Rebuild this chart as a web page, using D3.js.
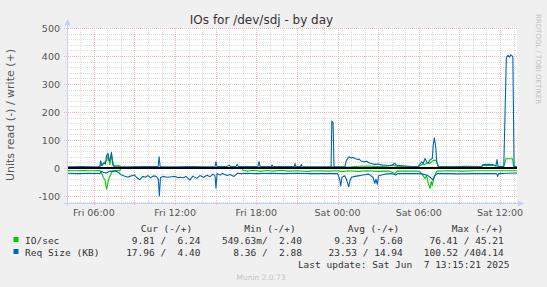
<!DOCTYPE html>
<html><head><meta charset="utf-8">
<script src="https://cdn.jsdelivr.net/npm/d3@7/dist/d3.min.js"></script>
<style>html,body{margin:0;padding:0;background:#f0f0f0;}svg{display:block;}</style>
</head><body>
<svg id="c" width="547" height="287"></svg>
<script>
const title = "IOs for /dev/sdj - by day";
const yLabel = "Units read (-) / write (+)";
const yTicks = [-100, 0, 100, 200, 300, 400, 500];
const baseDay = new Date(2025, 5, 6, 0, 0, 0);          // Fri Jun 6 2025 00:00
const startTime = new Date(2025, 5, 6, 4, 1, 0);
const endTime = new Date(2025, 5, 7, 13, 15, 21);
const lastUpdate = "Last update: Sat Jun  7 13:15:21 2025";
const version = "Munin 2.0.73";
const sideText = "RRDTOOL / TOBI OETIKER";

// [hours since Fri 00:00, value]
const ioWrite = [[4.02,1],[5.0,1.3],[6.0,1],[6.40,1.2],[6.50,12],[6.62,8],[6.75,18],[6.95,28],[7.07,45],[7.18,12],[7.32,44],[7.44,10],[7.55,8],[7.93,8],[7.98,1],[9.5,1.2],[11,1],[13,1.3],[15,1],[17.02,1.5],[18.5,2.5],[19.10,3],[19.16,8],[19.24,3],[21,3],[22.5,2.5],[23.45,3],[23.55,7],[23.7,3],[25.0,4],[25.6,6],[26.3,7],[27.0,5],[27.6,6],[28.22,9],[28.4,5],[29.94,5],[30.15,10],[30.3,14],[30.46,13],[30.6,18],[30.8,16],[30.95,22],[31.1,28],[31.3,27],[31.42,6],[32.5,5],[33.5,6],[34.6,5],[34.74,10],[35.3,9],[35.6,8],[35.75,6],[36.28,6],[36.45,33],[36.93,33],[37.0,6],[37.25,6.24]];
const ioRead = [[4.02,-9.5],[4.6,-10],[5.2,-9],[5.8,-10],[6.46,-9.5],[6.58,-19],[6.70,-34],[6.82,-41],[6.94,-76],[7.05,-50],[7.14,-34],[7.24,-24],[7.36,-10],[7.6,-9.5],[7.93,-9.5],[7.98,-1],[10,-0.8],[13,-0.6],[16,-0.8],[16.98,-0.8],[17.02,-9],[17.4,-11],[17.8,-8],[18.3,-12],[18.8,-9],[19.3,-11],[19.8,-8],[20.4,-11],[21,-10],[21.8,-12],[22.5,-10],[23.3,-11],[24.0,-10],[24.3,-13],[24.8,-10],[25.5,-12],[26.2,-10],[27.0,-12],[27.8,-11],[28.25,-20],[28.4,-11],[29.9,-11],[30.1,-14],[30.22,-20],[30.35,-30],[30.46,-37],[30.58,-27],[30.70,-55],[30.83,-73],[30.92,-48],[31.0,-62],[31.1,-35],[31.25,-20],[31.35,-11],[32.2,-10],[33.2,-11],[34.2,-10],[35.2,-10],[36.2,-10],[37.25,-9.81]];
const reqWrite = [[4.02,4.5],[5.0,5],[6.0,4.5],[6.44,5],[6.50,26],[6.58,10],[6.70,18],[6.85,14],[6.95,46],[7.05,52],[7.12,25],[7.20,30],[7.30,56],[7.40,12],[7.50,5],[8.5,4.5],[9.5,5],[10.75,5],[10.82,40],[10.9,5],[12,4.5],[13.2,5],[14.4,4.5],[14.95,5],[15.02,22],[15.1,5],[15.8,5],[16.0,10],[16.1,5],[16.5,5],[16.58,13],[16.66,5],[18.12,5],[18.2,24],[18.28,5],[19.1,5],[19.16,11],[19.22,5],[20.8,5],[20.86,16],[20.92,5],[21.27,5],[21.32,13],[21.38,5],[23.52,4.5],[23.58,168],[23.67,162],[23.74,4.5],[24.55,4.5],[24.62,22],[24.70,30],[24.83,40],[25.0,36],[25.15,38],[25.29,34],[25.5,30],[25.6,32],[25.73,25],[26.0,22],[26.15,24],[26.32,19],[26.5,16],[26.75,13],[27.0,14],[27.2,11],[27.5,10],[27.9,9],[28.1,12],[28.22,17],[28.35,10],[28.98,7],[29.5,5],[29.94,5],[30.1,15],[30.22,22],[30.33,16],[30.46,34],[30.58,22],[30.7,18],[30.83,29],[31.0,34],[31.07,82],[31.15,108],[31.25,76],[31.33,22],[31.45,4.5],[32.3,4.5],[33.2,5],[34.2,4.5],[34.65,4.5],[34.74,12],[35.2,13],[35.5,12],[35.7,8],[35.78,30],[35.86,5],[36.28,5],[36.47,395],[36.6,402],[36.7,396],[36.8,404],[36.95,398],[37.04,4.5],[37.25,4.4]];
const reqRead = [[4.02,-19],[4.8,-20],[5.6,-19],[6.46,-19.5],[6.55,-12],[6.7,-15],[6.9,-18],[7.05,-14],[7.2,-11],[7.4,-13],[7.6,-11],[7.85,-17],[8.0,-24],[8.2,-28],[8.5,-33],[8.7,-29],[9.0,-25],[9.2,-36],[9.4,-42],[9.6,-30],[9.8,-33],[10.0,-27],[10.2,-35],[10.4,-28],[10.6,-30],[10.76,-40],[10.84,-100],[10.92,-35],[11.1,-30],[11.4,-33],[11.78,-31],[12.0,-30],[12.2,-34],[12.37,-33],[12.6,-35],[12.8,-30],[13.1,-43],[13.3,-29],[13.6,-37],[13.84,-27],[14.1,-33],[14.36,-26],[14.58,-31],[14.8,-22],[14.95,-28],[15.02,-72],[15.1,-20],[15.32,-25],[15.5,-20],[15.84,-27],[16.06,-23],[16.35,-30],[16.6,-19],[16.9,-20],[17.3,-19],[18.0,-20],[19.0,-19],[20.0,-20],[21.0,-19],[22.0,-20],[23.0,-20],[24.0,-20],[24.16,-40],[24.23,-64],[24.33,-33],[24.53,-28],[24.65,-40],[24.83,-67],[24.92,-45],[25.02,-33],[25.29,-30],[25.51,-28],[25.88,-25],[26.3,-22],[26.62,-33],[26.75,-55],[26.84,-40],[26.94,-58],[27.03,-28],[27.5,-22],[28.0,-20],[28.3,-25],[28.45,-20],[29.9,-20],[30.2,-21],[30.5,-24],[30.7,-28],[30.9,-35],[31.07,-43],[31.2,-27],[31.35,-20],[32.0,-20],[33.0,-21],[34.0,-20],[35.0,-20],[35.75,-20],[35.83,-30],[35.9,-20],[36.5,-19],[37.25,-18]];

const legendNames = ["IO/sec", "Req Size (KB)"];
const legendColors = ["#00cc00", "#0066b3"];
const legendHeaders = ["Cur (-/+)", "Min (-/+)", "Avg (-/+)", "Max (-/+)"];
const curVals = ["9.81 /  6.24", "17.96 /  4.40"];
const minVals = ["549.63m/  2.40", "8.36 /  2.88"];
const avgVals = ["9.33 /  5.60", "23.53 / 14.94"];
const maxVals = ["76.41 / 45.21", "100.52 /404.14"];

const svg = d3.select("#c");
const W = 547, H = 287;
const L = 67, R = 517, T = 28, B = 203;
const toDate = h => new Date(baseDay.getTime() + h * 3600000);

const x = d3.scaleTime().domain([startTime, endTime]).range([L, R]);
const y = d3.scaleLinear().domain([-125, 500]).range([B, T]);

svg.append("rect").attr("width", W).attr("height", H).attr("fill", "#f0f0f0");
svg.append("rect").attr("x", L).attr("y", T).attr("width", R - L).attr("height", B - T).attr("fill", "#ffffff");

const grid = svg.append("g").attr("shape-rendering", "crispEdges");
const minorCol = "#dcdcdc", majorCol = "#f3baba";
const hours = d3.timeHour.every(1).range(startTime, endTime);
hours.filter(d => d.getHours() % 3 !== 0).forEach(d => {
  const px = Math.round(x(d)) + 0.5;
  grid.append("line").attr("x1", px).attr("x2", px).attr("y1", T).attr("y2", B)
    .attr("stroke", minorCol).attr("stroke-dasharray", "1,1");
});
d3.range(-120, 501, 20).filter(v => v % 100 !== 0).forEach(v => {
  const py = Math.round(y(v)) + 0.5;
  grid.append("line").attr("x1", L - 2).attr("x2", R).attr("y1", py).attr("y2", py)
    .attr("stroke", minorCol).attr("stroke-dasharray", "1,1");
});
hours.filter(d => d.getHours() % 3 === 0).forEach(d => {
  const px = Math.round(x(d)) + 0.5;
  grid.append("line").attr("x1", px).attr("x2", px).attr("y1", T).attr("y2", B + 3)
    .attr("stroke", majorCol).attr("stroke-dasharray", "1,1");
});
yTicks.forEach(v => {
  const py = Math.round(y(v)) + 0.5;
  grid.append("line").attr("x1", L - 3).attr("x2", R).attr("y1", py).attr("y2", py)
    .attr("stroke", majorCol).attr("stroke-dasharray", "1,1");
});

svg.append("g").selectAll("text").data(yTicks).join("text")
  .attr("x", 60).attr("y", d => y(d) + 3.5).attr("text-anchor", "end")
  .attr("font-family", "DejaVu Sans").attr("font-size", 9.5).attr("fill", "#555")
  .text(d => d);

const labelTicks = hours.filter(d => d.getHours() % 6 === 0);
const fmt = d3.timeFormat("%a %H:%M");
svg.append("g").selectAll("text").data(labelTicks).join("text")
  .attr("x", d => x(d)).attr("y", 216).attr("text-anchor", "middle")
  .attr("font-family", "DejaVu Sans").attr("font-size", 9.5).attr("fill", "#555")
  .text(d => fmt(d));

const line = d3.line().x(d => x(toDate(d[0]))).y(d => y(d[1]));
const series = [[ioWrite, legendColors[0]], [ioRead, legendColors[0]], [reqWrite, legendColors[1]], [reqRead, legendColors[1]]];
const sg = svg.append("g");
series.forEach(([data, col]) => {
  sg.append("path").datum(data).attr("d", line).attr("fill", "none")
    .attr("stroke", col).attr("stroke-width", 1.1).attr("stroke-linejoin", "round");
});

svg.append("line").attr("x1", L).attr("x2", R).attr("y1", y(0)).attr("y2", y(0))
  .attr("stroke", "#000").attr("stroke-width", 2);

const axisCol = "#c8cff4";
svg.append("line").attr("x1", L + 0.5).attr("x2", L + 0.5).attr("y1", B + 3).attr("y2", 24)
  .attr("stroke", axisCol).attr("stroke-width", 1);
svg.append("path").attr("d", `M${L - 2.5},25 L${L + 0.5},19 L${L + 3.5},25 Z`).attr("fill", axisCol);
svg.append("line").attr("x1", L - 3).attr("x2", 519).attr("y1", B + 0.5).attr("y2", B + 0.5)
  .attr("stroke", axisCol).attr("stroke-width", 1);
svg.append("path").attr("d", `M518,${B - 2.5} L524,${B + 0.5} L518,${B + 3.5} Z`).attr("fill", axisCol);

svg.append("text").attr("x", 261.5).attr("y", 24).attr("text-anchor", "middle")
  .attr("font-family", "DejaVu Sans").attr("font-size", 12).attr("fill", "#333").text(title);

svg.append("text").attr("transform", "translate(14,115) rotate(-90)").attr("text-anchor", "middle")
  .attr("font-family", "DejaVu Sans").attr("font-size", 11).attr("fill", "#555").text(yLabel);

svg.append("text").attr("transform", "translate(536,14) rotate(90)").attr("text-anchor", "start")
  .attr("font-family", "DejaVu Sans").attr("font-size", 7).attr("fill", "#c0c0c0").text(sideText);

const mono = "DejaVu Sans Mono";
const lg = svg.append("g").attr("font-family", mono).attr("font-size", 9.5).attr("fill", "#333");
const headerX = [140.7, 244.3, 347.7, 451.7];
legendHeaders.forEach((h, i) => {
  lg.append("text").attr("x", headerX[i]).attr("y", 232).attr("xml:space", "preserve").text(h);
});
const colEnds = [200.5, 302, 402.8, 503.8];
const cols = [curVals, minVals, avgVals, maxVals];
legendNames.forEach((n, r) => {
  const by = 243.5 + r * 12;
  svg.append("rect").attr("x", 13.5).attr("y", by - 6.5).attr("width", 5).attr("height", 5)
    .attr("fill", legendColors[r]);
  lg.append("text").attr("x", 25).attr("y", by).text(n);
  cols.forEach((c, ci) => {
    lg.append("text").attr("x", colEnds[ci]).attr("y", by).attr("text-anchor", "end")
      .attr("xml:space", "preserve").text(c[r]);
  });
});
lg.append("text").attr("x", 509.5).attr("y", 267.5).attr("text-anchor", "end")
  .attr("xml:space", "preserve").text(lastUpdate);

svg.append("text").attr("x", 261).attr("y", 279.5).attr("text-anchor", "middle")
  .attr("font-family", "DejaVu Sans").attr("font-size", 7.5).attr("fill", "#c4c4c4").text(version);
</script>
</body></html>
